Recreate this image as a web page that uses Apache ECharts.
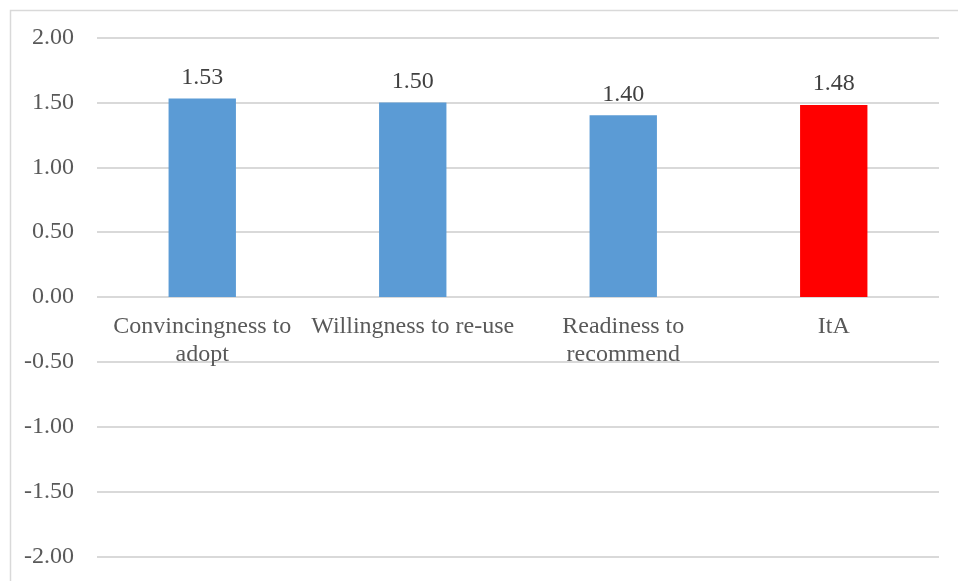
<!DOCTYPE html>
<html><head><meta charset="utf-8">
<script src="https://cdn.jsdelivr.net/npm/echarts@6/dist/echarts.min.js"></script>
<style>html,body{margin:0;padding:0;background:#fff;}#c{width:958px;height:581px;}</style>
</head><body><div id="c"></div>
<script>
const categories = ['Convincingness to\nadopt', 'Willingness to re-use', 'Readiness to\nrecommend', 'ItA'];
const values = [1.53, 1.50, 1.40, 1.48];
const barColors = ['#5B9BD5', '#5B9BD5', '#5B9BD5', '#FF0000'];
const yMin = -2, yMax = 2, yStep = 0.5;

const font = '"Liberation Serif", "Times New Roman", serif';
const chart = echarts.init(document.getElementById('c'), null, {renderer: 'canvas'});
chart.setOption({
  animation: false,
  backgroundColor: '#fff',
  graphic: [{
    type: 'rect', left: 8, top: 8, silent: true,
    shape: {x: 0, y: 0, width: 980, height: 600},
    style: {fill: 'none', stroke: '#D9D9D9', lineWidth: 1.5}
  }],
  grid: {left: 97, right: 19, top: 37.5, bottom: 24.5, containLabel: false, outerBoundsMode: 'none'},
  xAxis: {
    type: 'category', data: categories, position: 'bottom', offset: -259.5,
    axisLine: {show: false, onZero: false},
    axisTick: {show: false},
    axisLabel: {color: '#595959', fontFamily: font, fontSize: 24, lineHeight: 28, margin: 16, interval: 0}
  },
  yAxis: {
    type: 'value', min: yMin, max: yMax, interval: yStep,
    axisLine: {show: false}, axisTick: {show: false},
    axisLabel: {color: '#595959', fontFamily: font, fontSize: 24, margin: 23,
      formatter: v => v.toFixed(2)},
    splitLine: {lineStyle: {color: '#D9D9D9', width: 2}}
  },
  series: [{
    type: 'bar', barWidth: '32%',
    data: values.map((v, i) => ({value: v, itemStyle: {color: barColors[i]}})),
    label: {show: true, position: 'top', distance: 9, color: '#404040', fontFamily: font, fontSize: 24,
      formatter: p => p.value.toFixed(2)}
  }]
});
</script></body></html>
